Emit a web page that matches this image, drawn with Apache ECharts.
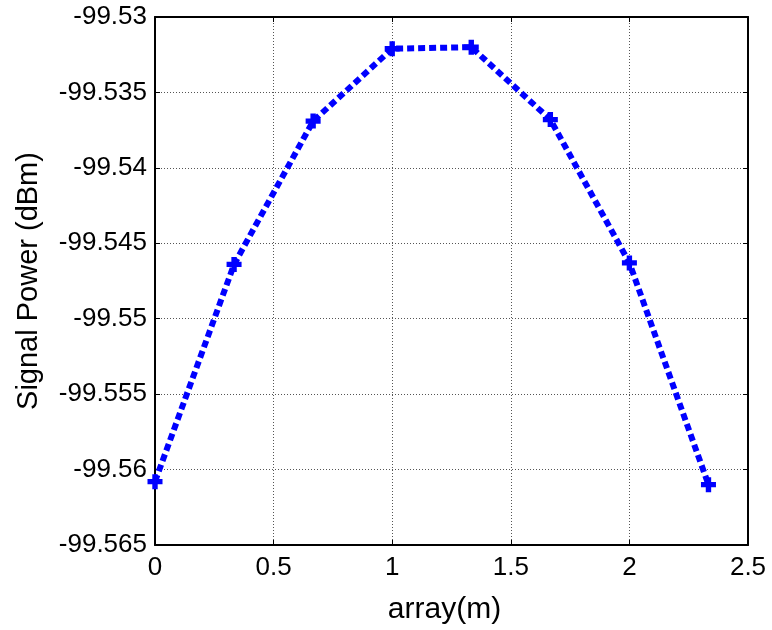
<!DOCTYPE html>
<html>
<head>
<meta charset="utf-8">
<script src="https://cdn.jsdelivr.net/npm/echarts@6/dist/echarts.min.js"></script>
<style>
  html, body { margin: 0; padding: 0; background: #fff; }
  #chart { width: 772px; height: 630px; }
</style>
</head>
<body>
<div id="chart"></div>
<script>
// Array positions (m) and measured signal power (dBm)
const positions = [0, 1 / 3, 2 / 3, 1, 4 / 3, 5 / 3, 2, 7 / 3];
const signalPower = [-99.5608, -99.5464, -99.5369, -99.5321, -99.5320, -99.5368, -99.5463, -99.5610];

const xTicks = { min: 0, max: 2.5, interval: 0.5 };
const yTicks = { min: -99.565, max: -99.53, interval: 0.005 };

const font = 'Liberation Sans, Arial, sans-serif';
// Bold plus-sign marker
const plusPath = 'path://M3.2,0 L6.8,0 L6.8,3.2 L10,3.2 L10,6.8 L6.8,6.8 L6.8,10 L3.2,10 L3.2,6.8 L0,6.8 L0,3.2 L3.2,3.2 Z';

const chart = echarts.init(document.getElementById('chart'), null, { renderer: 'canvas' });

const gridLine = { show: true, lineStyle: { color: '#555', width: 1, type: [1, 2] } };
const boxLine = { show: true, onZero: false, lineStyle: { color: '#000', width: 2 } };
const inTicks = { show: true, inside: true, length: 5, lineStyle: { color: '#000' } };
const tickFmt = v => String(+v.toFixed(3));

chart.setOption({
  animation: false,
  backgroundColor: '#fff',
  grid: { left: 155, right: 24, top: 17, bottom: 85, containLabel: false },
  xAxis: [
    {
      type: 'value', min: xTicks.min, max: xTicks.max, interval: xTicks.interval,
      axisLine: boxLine, axisTick: inTicks, splitLine: gridLine,
      axisLabel: { color: '#000', fontSize: 26, fontFamily: font, margin: 10, formatter: tickFmt },
      name: 'array(m)', nameLocation: 'middle', nameGap: 50,
      nameTextStyle: { color: '#000', fontSize: 30, fontFamily: font, padding: [0, 14, 0, 0] }
    },
    {
      type: 'value', position: 'top', min: xTicks.min, max: xTicks.max, interval: xTicks.interval,
      axisLine: boxLine, axisTick: inTicks,
      axisLabel: { show: false }, splitLine: { show: false }
    }
  ],
  yAxis: [
    {
      type: 'value', min: yTicks.min, max: yTicks.max, interval: yTicks.interval,
      axisLine: boxLine, axisTick: inTicks, splitLine: gridLine,
      axisLabel: { color: '#000', fontSize: 26, fontFamily: font, margin: 8, formatter: tickFmt },
      name: 'Signal Power (dBm)', nameLocation: 'middle', nameGap: 112, nameRotate: 90,
      nameTextStyle: { color: '#000', fontSize: 29, fontFamily: font }
    },
    {
      type: 'value', position: 'right', min: yTicks.min, max: yTicks.max, interval: yTicks.interval,
      axisLine: boxLine, axisTick: inTicks,
      axisLabel: { show: false }, splitLine: { show: false }
    }
  ],
  series: [
    {
      type: 'line',
      xAxisIndex: 0, yAxisIndex: 0,
      data: positions.map((x, i) => [x, signalPower[i]]),
      lineStyle: { color: '#0000ff', width: 6, type: [7, 4] },
      symbol: plusPath, symbolSize: 15, showSymbol: true,
      itemStyle: { color: '#0000ff', borderWidth: 0 },
      z: 5
    }
  ]
});
</script>
</body>
</html>
